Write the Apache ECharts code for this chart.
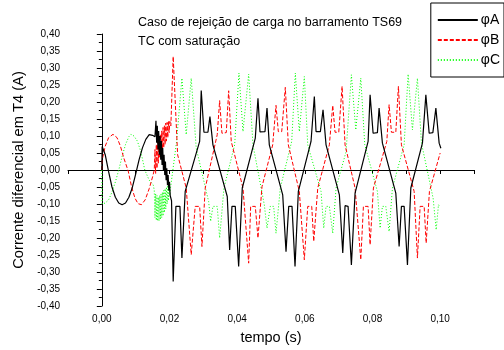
<!DOCTYPE html>
<html>
<head>
<meta charset="utf-8">
<script src="https://cdn.jsdelivr.net/npm/echarts@6/dist/echarts.min.js"></script>
<style>html,body{margin:0;padding:0;background:#fff}#c{width:504px;height:350px}</style>
</head>
<body>
<div id="c"></div>
<script>
var titleLines = ['Caso de rejeição de carga no barramento TS69', 'TC com saturação'];
var seriesNames = ['\u03c6A', '\u03c6B', '\u03c6C'];
var xName = 'tempo (s)';
var yName = 'Corrente diferencial em T4 (A)';
var xLabelValues = [0, 0.02, 0.04, 0.06, 0.08, 0.10];

var phaseA = [
 [0,0],[0.0001,0.069],[0.001,0.045],[0.002,-0.005],[0.003,-0.05],[0.004,-0.08],[0.005,-0.097],[0.006,-0.102],
 [0.007,-0.097],[0.008,-0.08],[0.009,-0.052],[0.010,-0.012],[0.011,0.03],[0.012,0.065],[0.013,0.09],[0.014,0.104],
 [0.015,0.102],[0.0157,0.098],[0.0160,0.145],[0.0162,0.08],[0.0164,0.13],[0.0166,0.06],[0.0168,0.115],[0.0170,0.045],
 [0.0172,0.10],[0.0174,0.03],[0.0176,0.085],[0.0178,0.015],[0.0180,0.065],[0.0182,0.0],[0.0184,0.045],[0.0186,-0.015],
 [0.0188,0.025],[0.0190,-0.03],[0.0192,0.005],[0.0194,-0.045],[0.0196,-0.015],[0.0198,-0.06],[0.0200,-0.035],[0.0202,-0.075],
 [0.0206,-0.09],[0.02109,-0.328],[0.02189,-0.107],[0.02308,-0.107],[0.02367,-0.259],[0.02464,-0.063],[0.02891,0.084],[0.02938,0.234],
 [0.03018,0.111],[0.03136,0.111],[0.03195,0.157],[0.03284,0.074],[0.03707,-0.078],[0.03778,-0.235],[0.03846,-0.107],[0.03944,-0.107],
 [0.04044,-0.284],[0.04151,-0.053],[0.04536,0.094],[0.04615,0.211],[0.04675,0.112],[0.04822,0.113],[0.04882,0.182],[0.04950,0.074],
 [0.05346,-0.073],[0.05444,-0.240],[0.05524,-0.107],[0.05621,-0.107],[0.05710,-0.284],[0.05808,-0.063],[0.06183,0.084],[0.06281,0.216],
 [0.06331,0.113],[0.06459,0.113],[0.06538,0.177],[0.06627,0.074],[0.07021,-0.073],[0.07121,-0.244],[0.07189,-0.105],[0.07278,-0.107],
 [0.07376,-0.279],[0.07485,-0.068],[0.07870,0.084],[0.07929,0.221],[0.08018,0.108],[0.08145,0.110],[0.08195,0.182],[0.08293,0.079],
 [0.08689,-0.068],[0.08787,-0.225],[0.08855,-0.107],[0.08935,-0.107],[0.09033,-0.279],[0.09133,-0.053],[0.09476,0.079],[0.09577,0.221],
 [0.09675,0.108],[0.09784,0.110],[0.09873,0.182],[0.09970,0.079],[0.10021,0.064]
];

var phaseB = [
 [0,0],[0.0001,0.03],[0.001,0.07],[0.002,0.095],[0.0033,0.105],[0.0045,0.095],[0.0055,0.07],[0.0065,0.035],
 [0.0078,-0.003],[0.0088,-0.05],[0.0098,-0.083],[0.0107,-0.099],[0.0117,-0.102],[0.0128,-0.088],[0.0140,-0.055],[0.0150,-0.02],
 [0.0155,0.0],[0.0157,0.06],[0.0159,-0.01],[0.0161,0.075],[0.0163,0.005],[0.0165,0.085],[0.0167,0.02],[0.0169,0.095],
 [0.0171,0.035],[0.0173,0.105],[0.0175,0.045],[0.0177,0.115],[0.0179,0.055],[0.0181,0.125],[0.0183,0.065],[0.0185,0.13],
 [0.0187,0.075],[0.0189,0.138],[0.0191,0.085],[0.0193,0.14],[0.0195,0.095],[0.0197,0.143],[0.0199,0.11],[0.0201,0.143],
 [0.0204,0.13],[0.02109,0.334],[0.0224,0.045],[0.02494,-0.053],[0.02642,-0.249],[0.02760,-0.107],[0.02891,-0.107],[0.02959,-0.225],
 [0.03056,-0.053],[0.03411,0.104],[0.03482,0.204],[0.03550,0.108],[0.03678,0.110],[0.03749,0.233],[0.03825,0.084],[0.04172,-0.053],
 [0.04340,-0.274],[0.04399,-0.107],[0.04536,-0.107],[0.04615,-0.200],[0.04734,-0.049],[0.05050,0.074],[0.05148,0.190],[0.05216,0.113],
 [0.05317,0.113],[0.05423,0.243],[0.05512,0.074],[0.05837,-0.063],[0.05985,-0.264],[0.06086,-0.107],[0.06204,-0.107],[0.06263,-0.210],
 [0.06382,-0.053],[0.06725,0.074],[0.06825,0.190],[0.06893,0.111],[0.07003,0.111],[0.07101,0.246],[0.07189,0.074],[0.07485,-0.053],
 [0.07654,-0.264],[0.07731,-0.107],[0.07870,-0.107],[0.07929,-0.220],[0.08027,-0.053],[0.08423,0.084],[0.08491,0.192],[0.08559,0.111],
 [0.08689,0.111],[0.08766,0.246],[0.08855,0.074],[0.09231,-0.063],[0.09328,-0.259],[0.09408,-0.107],[0.09527,-0.107],[0.09586,-0.215],
 [0.09683,-0.063],[0.1000,0.050]
];

var phaseC = [
 [0,0],[0.0001,-0.1],[0.001,-0.097],[0.002,-0.088],[0.003,-0.065],[0.004,-0.035],[0.005,0.0],[0.006,0.04],
 [0.007,0.075],[0.008,0.098],[0.0086,0.105],[0.0095,0.1],[0.0105,0.085],[0.0115,0.055],[0.0127,0.0],[0.014,-0.03],
 [0.0152,-0.044],[0.0155,-0.06],[0.0157,-0.14],[0.0159,-0.07],[0.0161,-0.148],[0.0163,-0.075],[0.0165,-0.15],[0.0167,-0.08],
 [0.0169,-0.15],[0.0171,-0.075],[0.0173,-0.145],[0.0175,-0.07],[0.0177,-0.14],[0.0179,-0.065],[0.0181,-0.135],[0.0183,-0.06],
 [0.0185,-0.125],[0.0187,-0.055],[0.0189,-0.115],[0.0191,-0.05],[0.0193,-0.1],[0.0195,-0.045],[0.0197,-0.09],[0.0199,-0.04],
 [0.0201,-0.075],[0.0203,-0.053],[0.0221,0.084],[0.02367,0.270],[0.02494,0.104],[0.02642,0.270],[0.02790,0.064],[0.03157,-0.093],
 [0.03216,-0.151],[0.03284,-0.107],[0.03411,-0.107],[0.03482,-0.200],[0.03609,-0.053],[0.03926,0.074],[0.04053,0.285],[0.04172,0.113],
 [0.04340,0.282],[0.04467,0.074],[0.04802,-0.102],[0.04882,-0.171],[0.04979,-0.107],[0.05079,-0.107],[0.05148,-0.186],[0.05275,-0.053],
 [0.05612,0.084],[0.05719,0.285],[0.05837,0.113],[0.05985,0.275],[0.06086,0.074],[0.06479,-0.063],[0.06559,-0.171],[0.06627,-0.107],
 [0.06725,-0.107],[0.06825,-0.186],[0.06923,-0.053],[0.07219,0.054],[0.07376,0.280],[0.07506,0.118],[0.07654,0.270],[0.07772,0.074],
 [0.08145,-0.063],[0.08225,-0.171],[0.08293,-0.107],[0.08393,-0.107],[0.08491,-0.181],[0.08589,-0.053],[0.08935,0.074],[0.09053,0.282],
 [0.09180,0.118],[0.09328,0.270],[0.09447,0.079],[0.09792,-0.083],[0.09882,-0.176],[0.09950,-0.102],[0.09980,-0.107]
];

var FONT = 'Liberation Sans, Arial, sans-serif';
var chart = echarts.init(document.getElementById('c'), null, {renderer: 'canvas'});
function fmt(v){ return v.toFixed(2).replace('.', ','); }
chart.setOption({
  animation: false,
  backgroundColor: '#fff',
  title: {
    text: titleLines.join('\n'),
    left: 133, top: 8,
    textStyle: {fontFamily: FONT, fontSize: 12.5, fontWeight: 'normal', color: '#000', lineHeight: 19}
  },
  legend: {
    orient: 'vertical', right: 0, top: 3,
    data: seriesNames,
    itemWidth: 40, itemHeight: 14, itemGap: 6,
    padding: [10, 4, 10, 6],
    borderColor: '#000', borderWidth: 1,
    itemStyle: {opacity: 0},
    textStyle: {fontFamily: FONT, fontSize: 14, color: '#000', padding: [0,0,0,-2]}
  },
  grid: {left: 68, right: 30, top: 34, bottom: 44, containLabel: false},
  xAxis: {
    type: 'value', min: -0.01, max: 0.11, interval: 0.01,
    name: xName, nameLocation: 'middle', nameGap: 24,
    nameTextStyle: {fontFamily: FONT, fontSize: 14.5, color: '#000'},
    axisLine: {show: true, lineStyle: {color: '#000', width: 1}},
    axisTick: {show: true, length: 4, lineStyle: {color: '#000'}},
    axisLabel: {
      fontFamily: FONT, fontSize: 10, color: '#000', margin: 8,
      formatter: function(v){
        for (var i = 0; i < xLabelValues.length; i++) {
          if (Math.abs(v - xLabelValues[i]) < 1e-9) return fmt(xLabelValues[i]);
        }
        return '';
      }
    },
    splitLine: {show: false}
  },
  yAxis: {
    type: 'value', min: -0.4, max: 0.4, interval: 0.05,
    name: yName, nameLocation: 'middle', nameGap: 42,
    nameTextStyle: {fontFamily: FONT, fontSize: 14.7, color: '#000'},
    axisLine: {show: true, lineStyle: {color: '#000', width: 1}},
    axisTick: {show: true, length: 5, lineStyle: {color: '#000'}},
    minorTick: {show: true, splitNumber: 2, length: 3, lineStyle: {color: '#000'}},
    axisLabel: {fontFamily: FONT, fontSize: 10, color: '#000', margin: 8, formatter: fmt},
    splitLine: {show: false}
  },
  series: [
    {name: seriesNames[0], type: 'line', data: phaseA, symbol: 'none', showSymbol: false,
     lineStyle: {color: '#000', width: 1.2}, itemStyle: {color: '#000'}, z: 3},
    {name: seriesNames[1], type: 'line', data: phaseB, symbol: 'none', showSymbol: false,
     lineStyle: {color: '#ff0000', width: 1, type: [4, 2]}, itemStyle: {color: '#ff0000'}, z: 2},
    {name: seriesNames[2], type: 'line', data: phaseC, symbol: 'none', showSymbol: false,
     lineStyle: {color: '#00ff00', width: 1, type: [1, 2]}, itemStyle: {color: '#00ff00'}, z: 1}
  ]
});
</script>
</body>
</html>
